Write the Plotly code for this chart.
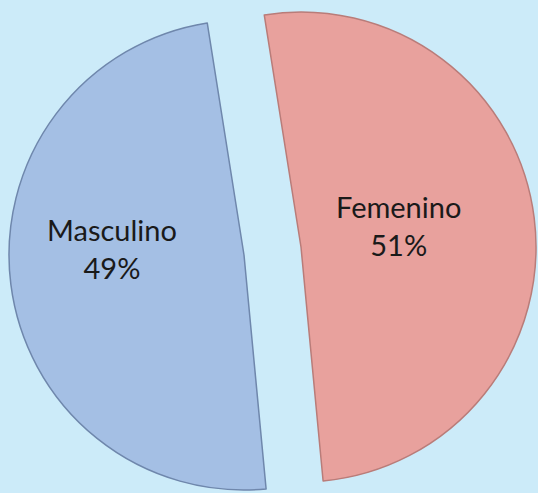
import plotly.graph_objects as go

# Data
labels = ["Femenino", "Masculino"]
values = [51, 49]
colors = ["#E8A19D", "#A4BFE4"]
edge_colors = ["#B97C79", "#6F87AC"]

BG = "#CCEBF9"
W, H = 538, 493

# pixel geometry of each (exploded) slice: centre x, centre y, radius
slice_geom = {"Masculino": (244, 255, 235), "Femenino": (301, 247, 235)}
label_pos = {"Masculino": (112, 249), "Femenino": (398, 225)}

total = sum(values)


def make_trace(visible_idx):
    cx, cy, r = slice_geom[labels[visible_idx]]
    fills = [c if i == visible_idx else "rgba(0,0,0,0)" for i, c in enumerate(colors)]
    lines = [c if i == visible_idx else "rgba(0,0,0,0)" for i, c in enumerate(edge_colors)]
    return go.Pie(
        labels=labels,
        values=values,
        sort=False,
        direction="clockwise",
        rotation=-9,
        marker=dict(colors=fills, line=dict(color=lines, width=1.5)),
        textinfo="none",
        hoverinfo="label+percent",
        showlegend=False,
        domain=dict(
            x=[(cx - r) / W, (cx + r) / W],
            y=[1 - (cy + r) / H, 1 - (cy - r) / H],
        ),
    )


fig = go.Figure()
fig.add_trace(make_trace(1))
fig.add_trace(make_trace(0))

for lab, val in zip(labels, values):
    px, py = label_pos[lab]
    fig.add_annotation(
        x=px / W,
        y=1 - py / H,
        xref="paper",
        yref="paper",
        text=f"{lab}<br>{round(100 * val / total)}%",
        showarrow=False,
        xanchor="center",
        yanchor="middle",
        align="center",
        font=dict(family="Lato, sans-serif", size=29, color="#1a1a1a"),
    )

fig.update_layout(
    width=W,
    height=H,
    margin=dict(l=0, r=0, t=0, b=0),
    paper_bgcolor=BG,
    plot_bgcolor=BG,
    showlegend=False,
)

fig.write_html(
    "out.html",
    config={"displayModeBar": False},
    post_script="document.body.style.margin='0';document.body.style.background='" + BG + "';",
)
